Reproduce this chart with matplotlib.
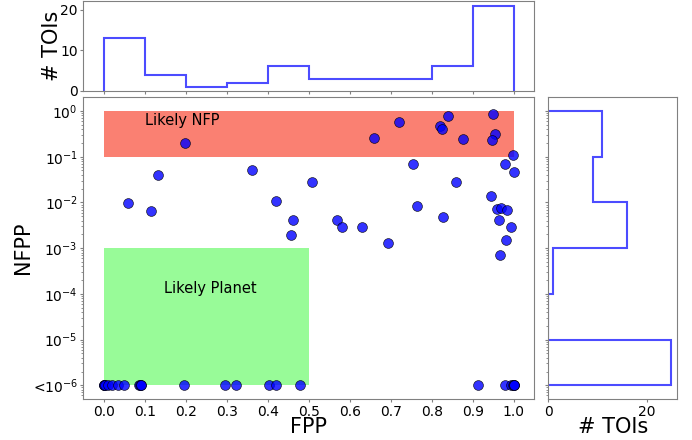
"""
FPP vs NFPP scatter with marginal histograms of TOI counts.
Output: out.png
"""

import numpy as np
import matplotlib
matplotlib.use("Agg")
import matplotlib.pyplot as plt

# ── Data ──────────────────────────────────────────────────────────────────────
# TOIs with a resolved NFPP
fpp_hi = [0.059, 0.114, 0.132, 0.197, 0.361, 0.419, 0.462, 0.457, 0.509, 0.569,
          0.582, 0.630, 0.660, 0.692, 0.720, 0.755, 0.764, 0.820, 0.824, 0.828,
          0.840, 0.859, 0.876, 0.945, 0.950, 0.954, 0.946, 0.958, 0.969, 0.984,
          0.964, 0.978, 0.998, 1.000, 0.992, 0.982, 0.967]
nfpp_hi = [0.0095, 0.0064, 0.040, 0.196, 0.050, 0.011, 0.0041, 0.0019, 0.0275,
           0.0041, 0.00285, 0.0029, 0.26, 0.0013, 0.57, 0.071, 0.0085, 0.47,
           0.40, 0.0049, 0.78, 0.0275, 0.24, 0.014, 0.88, 0.32, 0.23, 0.0072,
           0.0077, 0.0067, 0.0041, 0.068, 0.109, 0.046, 0.0029, 0.0015, 0.0007]
# TOIs with NFPP < 1e-6 (plotted on the floor)
fpp_lo = [0.0, 0.0, 0.0, 0.003, 0.010, 0.021, 0.034, 0.049, 0.086, 0.088,
          0.090, 0.091, 0.195, 0.295, 0.323, 0.402, 0.420, 0.479, 0.912,
          0.979, 0.994, 0.997, 1.0, 1.0, 1.0]
NFPP_FLOOR = 1e-6

fpp = np.array(fpp_hi + fpp_lo)
nfpp = np.array(nfpp_hi + [NFPP_FLOOR] * len(fpp_lo))

fpp_bins = np.linspace(0, 1, 11)
nfpp_bins = np.logspace(-6, 0, 7)

ytick_vals = [1e0, 1e-1, 1e-2, 1e-3, 1e-4, 1e-5, 1e-6]
ytick_labels = [r"$10^{0}$", r"$10^{-1}$", r"$10^{-2}$", r"$10^{-3}$",
                r"$10^{-4}$", r"$10^{-5}$", r"<$10^{-6}$"]
xtick_vals = np.round(np.arange(0, 1.01, 0.1), 1)

# ── Layout ────────────────────────────────────────────────────────────────────
W, H = 692, 440
fig = plt.figure(figsize=(W / 100, H / 100), dpi=100)

def px_axes(x0, y0, x1, y1):
    return fig.add_axes([x0 / W, 1 - y1 / H, (x1 - x0) / W, (y1 - y0) / H])

ax = px_axes(83.3, 97.3, 534.3, 399.0)
ax_top = px_axes(83.3, 1.5, 534.3, 90.7)
ax_right = px_axes(548.3, 97.3, 677.3, 399.0)

HIST_KW = dict(histtype="step", color="b", alpha=0.7, lw=1.5)

# ── Main scatter ──────────────────────────────────────────────────────────────
ax.set_yscale("log")
ax.fill_between([0, 1], 0.1, 1, color="salmon", lw=0, zorder=0)
ax.fill_between([0, 0.5], NFPP_FLOOR, 1e-3, color="palegreen", lw=0, zorder=0)
ax.scatter(fpp, nfpp, s=50, c="b", alpha=0.8, edgecolors="k", linewidths=0.5,
           zorder=3)
ax.text(0.1, 10 ** -0.2, "Likely NFP", ha="left", va="center", fontsize=10.5)
ax.text(0.26, 10 ** -3.89, "Likely Planet", ha="center", va="center",
        fontsize=10.5)

ax.set_xlim(-0.05, 1.05)
ax.set_ylim(10 ** -6.3, 10 ** 0.3)
ax.set_xticks(xtick_vals)
ax.set_xticklabels([f"{v:.1f}" for v in xtick_vals])
ax.set_yticks(ytick_vals)
ax.set_yticklabels(ytick_labels)
ax.set_xlabel("FPP", fontsize=15, labelpad=-1)
ax.set_ylabel("NFPP", fontsize=15, labelpad=0)

# ── Marginal histograms ───────────────────────────────────────────────────────
ax_top.hist(fpp, bins=fpp_bins, **HIST_KW)
ax_top.set_xlim(ax.get_xlim())
ax_top.set_xticks(xtick_vals)
ax_top.set_xticklabels([])
ax_top.set_yticks([0, 10, 20])
ax_top.set_ylabel("# TOIs", fontsize=15, labelpad=-1)

ax_right.hist(nfpp, bins=nfpp_bins, orientation="horizontal", **HIST_KW)
ax_right.set_yscale("log")
ax_right.set_ylim(ax.get_ylim())
ax_right.set_yticks(ytick_vals)
ax_right.set_yticklabels([])
ax_right.set_xticks([0, 20])
ax_right.set_xlabel("# TOIs", fontsize=15, labelpad=-1)

for a in (ax, ax_top, ax_right):
    for s in a.spines.values():
        s.set_color("gray")
    a.tick_params(which="both", color="gray", labelsize=10)
    a.tick_params(which="major", length=2.5, pad=1.5)
    a.tick_params(which="minor", length=1.5)

plt.savefig("out.png", dpi=100)
plt.close()
